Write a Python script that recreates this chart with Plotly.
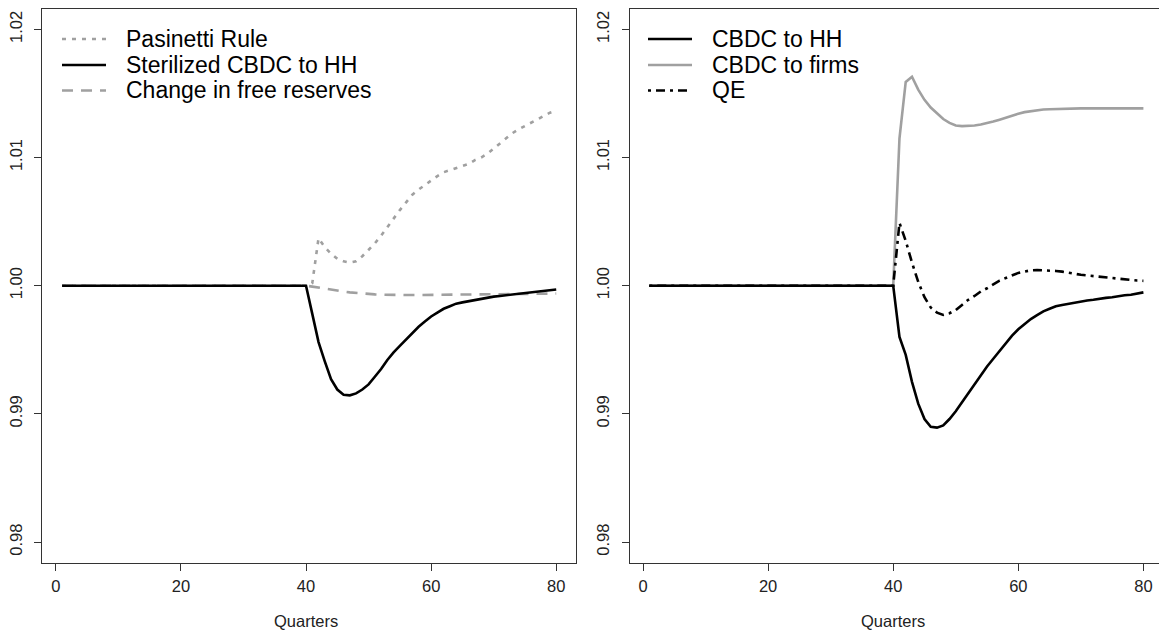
import plotly.graph_objects as go

W, H = 1159, 633

quarters = list(range(1, 81))
flat40 = [1.0] * 40

# Left panel
pasinetti_tail = [1.0002, 1.0037, 1.0030, 1.0025, 1.0021, 1.0019, 1.0018, 1.0019, 1.0023, 1.0028,
                  1.0033, 1.0039, 1.0046, 1.0053, 1.0059, 1.0065, 1.0071, 1.0075, 1.00786, 1.0082,
                  1.00855, 1.00885, 1.0090, 1.00917, 1.00932, 1.0095, 1.0098, 1.0100, 1.0103, 1.0107,
                  1.0111, 1.0115, 1.0119, 1.0122, 1.01245, 1.0127, 1.0130, 1.01325, 1.0135, 1.01365]
sterilized_tail = [0.9978, 0.9956, 0.9941, 0.9927, 0.9919, 0.9915, 0.99145, 0.9916, 0.9919, 0.9923,
                   0.9929, 0.9935, 0.9942, 0.9948, 0.9953, 0.9958, 0.9963, 0.9968, 0.9972, 0.9976,
                   0.9979, 0.9982, 0.9984, 0.9986, 0.9987, 0.9988, 0.9989, 0.9990, 0.9991, 0.99915,
                   0.9992, 0.99925, 0.9993, 0.9994, 0.99945, 0.9995, 0.99955, 0.9996, 0.99965, 0.9997]
reserves_tail = [0.99993, 0.99984, 0.99976, 0.99968, 0.99960, 0.99954, 0.99948, 0.99943, 0.99938, 0.99935,
                 0.99932, 0.99930, 0.99928, 0.99927, 0.99927, 0.99927, 0.99927, 0.99928, 0.99928, 0.99928,
                 0.99929, 0.99929, 0.99930, 0.99930, 0.99931, 0.99931, 0.99932, 0.99932, 0.99933, 0.99934,
                 0.99934, 0.99935, 0.99935, 0.99936, 0.99937, 0.99937, 0.99938, 0.99938, 0.99939, 0.99939]

# Right panel
hh_tail = [0.9960, 0.9946, 0.9925, 0.9908, 0.9896, 0.9890, 0.98893, 0.9891, 0.9896, 0.9902,
           0.9909, 0.9916, 0.9923, 0.9930, 0.9937, 0.9943, 0.9949, 0.9955, 0.9961, 0.9966,
           0.9970, 0.9974, 0.9977, 0.9980, 0.9982, 0.9984, 0.9985, 0.9986, 0.9987, 0.9988,
           0.99885, 0.9989, 0.9990, 0.99905, 0.9991, 0.9992, 0.99925, 0.9993, 0.9994, 0.99948]
firms_tail = [1.0115, 1.0159, 1.0163, 1.0153, 1.0145, 1.0139, 1.01345, 1.0130, 1.0127, 1.0125,
              1.01245, 1.01245, 1.0125, 1.01258, 1.01268, 1.0128, 1.01295, 1.01312, 1.01328, 1.01342,
              1.01354, 1.01362, 1.01369, 1.01374, 1.01377, 1.01379, 1.01381, 1.01382, 1.01383, 1.01383,
              1.01383, 1.01383, 1.01383, 1.01383, 1.01383, 1.01383, 1.01383, 1.01383, 1.01383, 1.01383]
qe_tail = [1.0049, 1.0035, 1.0018, 1.0003, 0.9991, 0.9983, 0.9979, 0.99772, 0.99785, 0.9981,
           0.9985, 0.9989, 0.9992, 0.99955, 0.9998, 1.0001, 1.0004, 1.0006, 1.0008, 1.0010,
           1.0011, 1.0012, 1.00122, 1.0012, 1.0012, 1.00115, 1.0011, 1.0010, 1.0009, 1.00085,
           1.0008, 1.00075, 1.0007, 1.0006, 1.00055, 1.0005, 1.00047, 1.00043, 1.0004, 1.00038]

pasinetti = flat40 + pasinetti_tail
sterilized = flat40 + sterilized_tail
reserves = flat40 + reserves_tail
cbdc_hh = flat40 + hh_tail
cbdc_firms = flat40 + firms_tail
qe = flat40 + qe_tail

y_ticks = [0.98, 0.99, 1.00, 1.01, 1.02]
y_ticktext = ["0.98", "0.99", "1.00", "1.01", "1.02"]
x_ticks = [0, 20, 40, 60, 80]

GRAY = "#a0a0a0"
LW = 2.6
DOT = "4px,6px"
DASH = "11px,8px"
DASHDOT = "3px,5px,9px,5px"
FONT = "Liberation Sans, Arial, sans-serif"
TICK_SIZE = 16.5
LEG_SIZE = 23

fig = go.Figure()

# left
fig.add_trace(go.Scatter(x=quarters, y=pasinetti, mode="lines", line=dict(color=GRAY, width=LW, dash=DOT),
                         xaxis="x", yaxis="y", showlegend=False))
fig.add_trace(go.Scatter(x=quarters, y=reserves, mode="lines", line=dict(color=GRAY, width=LW, dash=DASH),
                         xaxis="x", yaxis="y", showlegend=False))
fig.add_trace(go.Scatter(x=quarters, y=sterilized, mode="lines", line=dict(color="black", width=LW),
                         xaxis="x", yaxis="y", showlegend=False))
# right
fig.add_trace(go.Scatter(x=quarters, y=cbdc_firms, mode="lines", line=dict(color=GRAY, width=LW),
                         xaxis="x2", yaxis="y2", showlegend=False))
fig.add_trace(go.Scatter(x=quarters, y=cbdc_hh, mode="lines", line=dict(color="black", width=LW),
                         xaxis="x2", yaxis="y2", showlegend=False))
fig.add_trace(go.Scatter(x=quarters, y=qe, mode="lines", line=dict(color="black", width=LW, dash=DASHDOT),
                         xaxis="x2", yaxis="y2", showlegend=False))

def px(x):
    return x / W

def py(y):
    return 1 - y / H

box_top, box_bot = 8.8, 562.6
ydom = [py(box_bot), py(box_top)]
px_per_unit = 6.255
xr_left = -2.16
left_dom = [px(42.3), px(576.0)]
right_dom = [px(629.5), 1.0]
xr_right_end = xr_left + (W - 629.5) / px_per_unit

axis_common = dict(showgrid=False, zeroline=False, showline=True, linecolor="#333", linewidth=1,
                   ticks="outside", ticklen=7, tickcolor="#333", tickwidth=1,
                   tickfont=dict(family=FONT, size=TICK_SIZE, color="#222"))

fig.update_layout(
    width=W, height=H, margin=dict(l=0, r=0, t=0, b=0),
    paper_bgcolor="white", plot_bgcolor="white",
    xaxis=dict(domain=left_dom, range=[xr_left, 83.16], tickvals=x_ticks, mirror=True, anchor="y",
               ticklabelstandoff=2, **axis_common),
    yaxis=dict(domain=ydom, range=[0.9784, 1.0216], tickvals=y_ticks, ticktext=y_ticktext, tickangle=-90,
               mirror=True, anchor="x", ticklabelstandoff=6, **axis_common),
    xaxis2=dict(domain=right_dom, range=[xr_left, xr_right_end], tickvals=x_ticks, mirror=True, anchor="y2",
                ticklabelstandoff=2, **axis_common),
    yaxis2=dict(domain=ydom, range=[0.9784, 1.0216], tickvals=y_ticks, ticktext=y_ticktext, tickangle=-90,
                mirror=False, anchor="x2", ticklabelstandoff=6, **axis_common),
)

shapes = []
annotations = []

def legend(x0, x1, xt, rows):
    for (yrow, label, color, dash) in rows:
        shapes.append(dict(type="line", xref="paper", yref="paper", x0=px(x0), x1=px(x1), y0=py(yrow), y1=py(yrow),
                           line=dict(color=color, width=LW, dash=dash)))
        annotations.append(dict(xref="paper", yref="paper", x=px(xt), y=py(yrow), text=label, showarrow=False,
                                xanchor="left", yanchor="middle", font=dict(family=FONT, size=LEG_SIZE, color="black")))

legend(62, 106, 124, [(39, "Pasinetti Rule", GRAY, DOT),
                      (65, "Sterilized CBDC to HH", "black", "solid"),
                      (90.5, "Change in free reserves", GRAY, DASH)])
legend(648, 692, 710, [(39, "CBDC to HH", "black", "solid"),
                       (65, "CBDC to firms", GRAY, "solid"),
                       (90.5, "QE", "black", DASHDOT)])

for cx in [42.3 + (2.16 + 40) * px_per_unit, 629.5 + (2.16 + 40) * px_per_unit]:
    annotations.append(dict(xref="paper", yref="paper", x=px(cx), y=py(621), text="Quarters", showarrow=False,
                            xanchor="center", yanchor="middle", font=dict(family=FONT, size=TICK_SIZE, color="#222")))

fig.update_layout(shapes=shapes, annotations=annotations)
fig.write_html("out.html")
